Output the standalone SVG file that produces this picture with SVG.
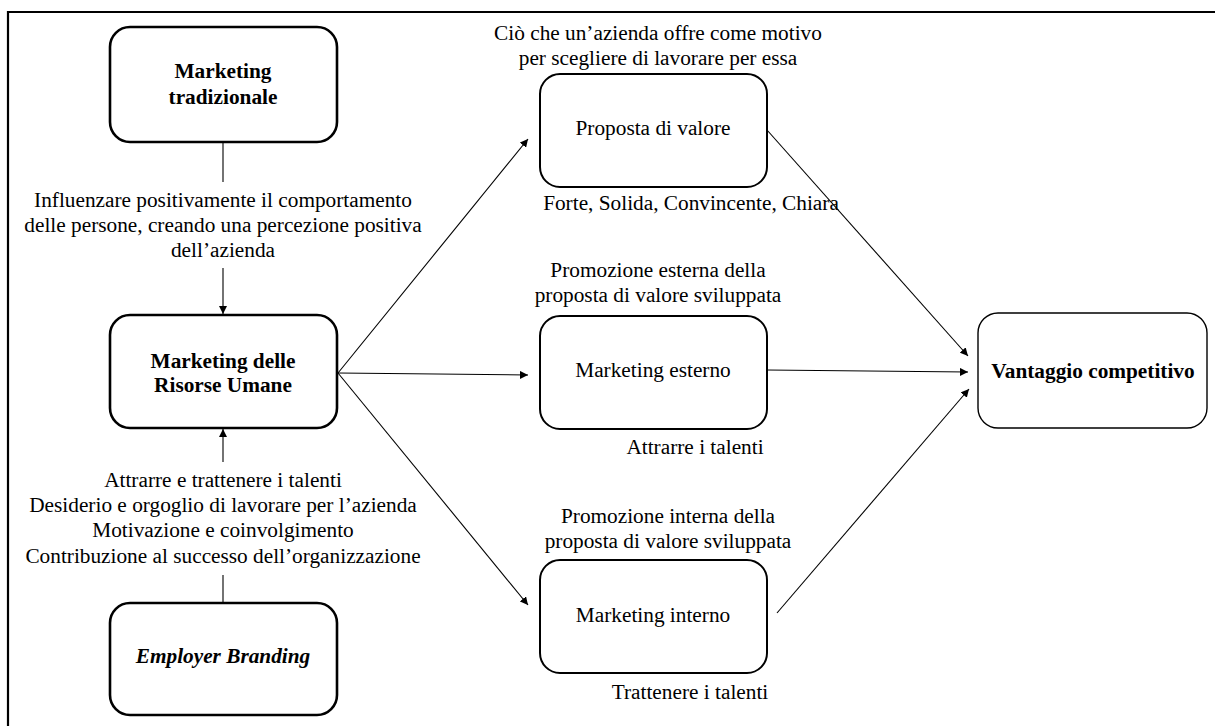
<svg xmlns="http://www.w3.org/2000/svg" width="1215" height="726" viewBox="0 0 1215 726">
  <defs>
    <marker id="arrow" viewBox="0 0 10 10" refX="10" refY="5" markerWidth="8" markerHeight="8" markerUnits="userSpaceOnUse" orient="auto">
      <path d="M0,0 L10,5 L0,10 z" fill="#000"/>
    </marker>
    <style>
      text { font-family: "Liberation Serif", "Times New Roman", serif; fill: #000; font-size: 21.3px; text-anchor: middle; }
      .b { font-weight: bold; }
      .bi { font-weight: bold; font-style: italic; }
      .thick { fill: #fff; stroke: #000; stroke-width: 2.6; }
      .mid { fill: #fff; stroke: #000; stroke-width: 2; }
      .thin { fill: #fff; stroke: #000; stroke-width: 1.4; }
      .conn line { stroke: #000; stroke-width: 1.1; fill: none; }
    </style>
  </defs>

  <rect width="1215" height="726" fill="#fff"/>
  <!-- frame -->
  <path d="M8,726 V12 H1215" fill="none" stroke="#000" stroke-width="2.2"/>

  <!-- connectors -->
  <g id="connectors" class="conn">
    <line x1="223" y1="142" x2="223" y2="182"/>
    <line x1="223" y1="268" x2="223" y2="314" marker-end="url(#arrow)"/>
    <line x1="223" y1="462" x2="223" y2="429" marker-end="url(#arrow)"/>
    <line x1="223" y1="575" x2="223" y2="603"/>
    <line x1="338" y1="373" x2="528" y2="139" marker-end="url(#arrow)"/>
    <line x1="338" y1="373" x2="528" y2="375" marker-end="url(#arrow)"/>
    <line x1="338" y1="373" x2="528" y2="605" marker-end="url(#arrow)"/>
    <line x1="767" y1="130" x2="968" y2="356" marker-end="url(#arrow)"/>
    <line x1="767" y1="370" x2="968" y2="372" marker-end="url(#arrow)"/>
    <line x1="777" y1="613" x2="969" y2="389" marker-end="url(#arrow)"/>
  </g>

  <!-- left column -->
  <g id="marketing-tradizionale">
    <rect class="thick" x="110" y="27" width="227" height="115" rx="20"/>
    <text class="b" x="223" y="78">Marketing</text>
    <text class="b" x="223" y="104">tradizionale</text>
  </g>
  <g id="label-influenzare">
    <text x="223" y="207">Influenzare positivamente il comportamento</text>
    <text x="223" y="232">delle persone, creando una percezione positiva</text>
    <text x="223" y="257">dell’azienda</text>
  </g>
  <g id="marketing-risorse-umane">
    <rect class="thick" x="110" y="315" width="227" height="113" rx="20"/>
    <text class="b" x="223" y="368">Marketing delle</text>
    <text class="b" x="223" y="392">Risorse Umane</text>
  </g>
  <g id="label-attrarre">
    <text x="223" y="487">Attrarre e trattenere i talenti</text>
    <text x="223" y="512">Desiderio e orgoglio di lavorare per l’azienda</text>
    <text x="223" y="537">Motivazione e coinvolgimento</text>
    <text x="223" y="563">Contribuzione al successo dell’organizzazione</text>
  </g>
  <g id="employer-branding">
    <rect class="thick" x="110" y="603" width="227" height="112" rx="20"/>
    <text class="bi" x="223" y="663">Employer Branding</text>
  </g>

  <!-- middle column -->
  <g id="proposta-di-valore">
    <text x="658" y="40">Ciò che un’azienda offre come motivo</text>
    <text x="658" y="65">per scegliere di lavorare per essa</text>
    <rect class="mid" x="540" y="74" width="227" height="113" rx="20"/>
    <text x="653" y="135">Proposta di valore</text>
    <text x="691" y="210">Forte, Solida, Convincente, Chiara</text>
  </g>
  <g id="marketing-esterno">
    <text x="658" y="277">Promozione esterna della</text>
    <text x="658" y="302">proposta di valore sviluppata</text>
    <rect class="mid" x="540" y="316" width="227" height="113" rx="20"/>
    <text x="653" y="377">Marketing esterno</text>
    <text x="695" y="454">Attrarre i talenti</text>
  </g>
  <g id="marketing-interno">
    <text x="668" y="523">Promozione interna della</text>
    <text x="668" y="548">proposta di valore sviluppata</text>
    <rect class="mid" x="540" y="560" width="227" height="113" rx="20"/>
    <text x="653" y="622">Marketing interno</text>
    <text x="690" y="699">Trattenere i talenti</text>
  </g>

  <!-- right column -->
  <g id="vantaggio-competitivo">
    <rect class="thin" x="978" y="313" width="229" height="115" rx="20"/>
    <text class="b" x="1093" y="378">Vantaggio competitivo</text>
  </g>
</svg>
